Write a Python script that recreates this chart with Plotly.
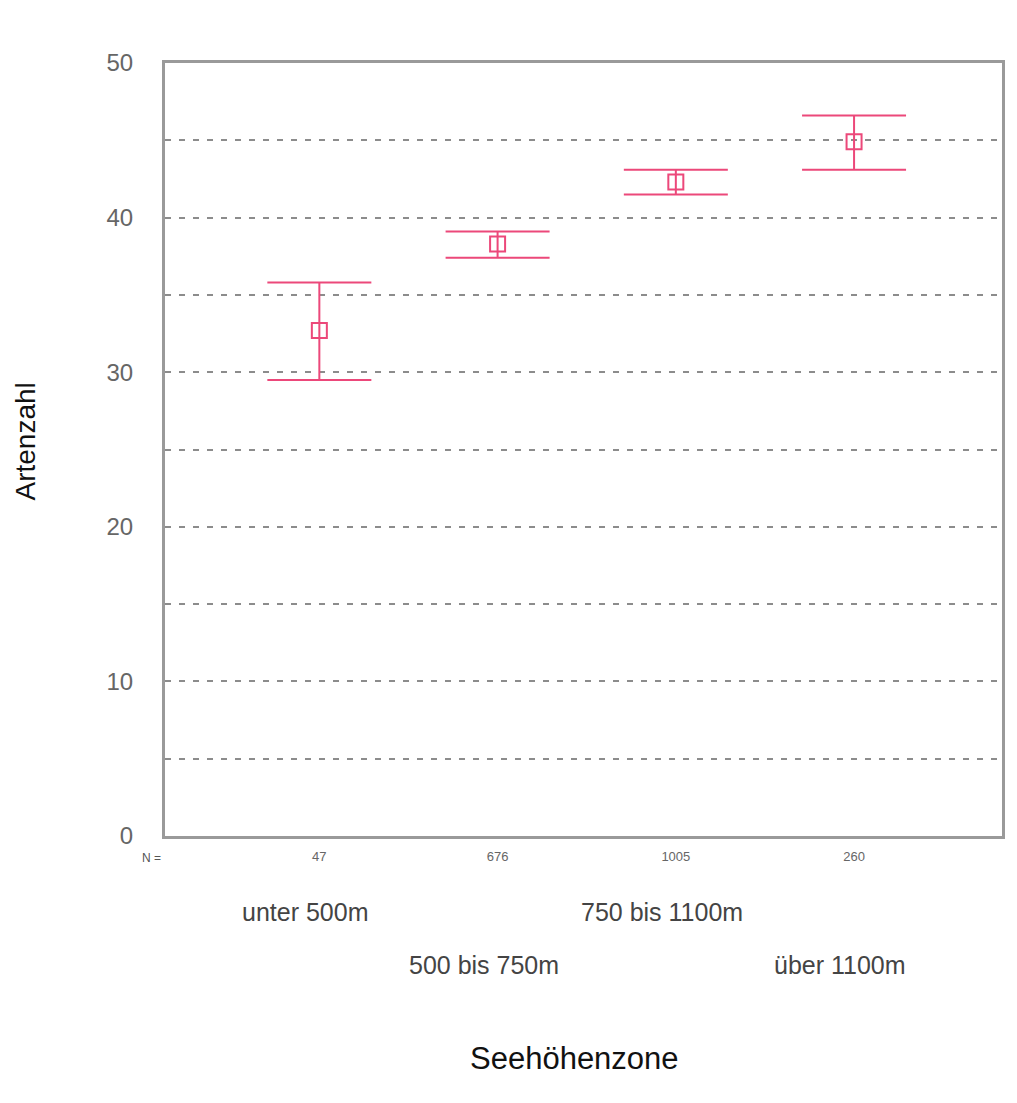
import plotly.graph_objects as go

positions = [1, 2, 3, 4]
zones = ["unter 500m", "500 bis 750m", "750 bis 1100m", "über 1100m"]
n_labels = ["47", "676", "1005", "260"]
means = [32.7, 38.3, 42.3, 44.9]
upper = [35.8, 39.1, 43.1, 46.6]
lower = [29.5, 37.4, 41.5, 43.1]

y_ticks = [0, 5, 10, 15, 20, 25, 30, 35, 40, 45, 50]
y_ticktext = ["0", "", "10", "", "20", "", "30", "", "40", "", "50"]

pink = "rgb(236,72,122)"
font_fam = "Liberation Sans, Arial, sans-serif"

err_plus = [u - m for u, m in zip(upper, means)]
err_minus = [m - l for m, l in zip(means, lower)]

fig = go.Figure()
fig.add_trace(go.Scatter(
    x=positions, y=means, mode="markers",
    marker=dict(symbol="square-open", size=15, color=pink, line=dict(width=2, color=pink)),
    error_y=dict(type="data", symmetric=False, array=err_plus, arrayminus=err_minus,
                 color=pink, thickness=2, width=52),
    showlegend=False,
))

annotations = []
for i, (p, z) in enumerate(zip(positions, zones)):
    annotations.append(dict(
        x=p, xref="x", y=0, yref="paper", text=z, showarrow=False,
        xanchor="center", yanchor="middle", xshift=-14,
        yshift=-76 if i % 2 == 0 else -129,
        font=dict(family=font_fam, size=25, color="#444444"),
    ))
annotations.append(dict(
    x=0, xref="paper", y=0, yref="paper", text="N =", showarrow=False,
    xanchor="center", yanchor="middle", xshift=-14, yshift=-22,
    font=dict(family=font_fam, size=12, color="#555555"),
))
annotations.append(dict(
    x=0, xref="paper", y=0.5, yref="paper", text="Artenzahl", showarrow=False,
    xanchor="center", yanchor="middle", xshift=-140, yshift=8, textangle=-90,
    font=dict(family=font_fam, size=28, color="#111111"),
))
annotations.append(dict(
    x=0.5, xref="paper", y=0, yref="paper", text="Seehöhenzone", showarrow=False,
    xanchor="center", yanchor="middle", xshift=-9, yshift=-222,
    font=dict(family=font_fam, size=31, color="#111111"),
))

fig.update_layout(
    width=1017, height=1103,
    margin=dict(l=165, r=12, t=63, b=267),
    paper_bgcolor="white", plot_bgcolor="white",
    annotations=annotations,
    xaxis=dict(
        range=[0.134, 4.83], tickvals=positions, ticktext=n_labels,
        showgrid=False, zeroline=False,
        showline=True, linewidth=3, linecolor="#9a9a9a", mirror=True,
        ticks="outside", ticklen=6, tickcolor="rgba(0,0,0,0)",
        tickfont=dict(family=font_fam, size=13, color="#666666"),
    ),
    yaxis=dict(
        range=[0, 50], tickvals=y_ticks, ticktext=y_ticktext,
        showgrid=True, gridcolor="#8c8c8c", gridwidth=1.5, griddash="6px,8px",
        zeroline=False,
        showline=True, linewidth=3, linecolor="#9a9a9a", mirror=True,
        ticks="outside", ticklen=24, tickcolor="rgba(0,0,0,0)",
        tickfont=dict(family=font_fam, size=24, color="#666666"),
    ),
)

fig.write_html("out.html")
